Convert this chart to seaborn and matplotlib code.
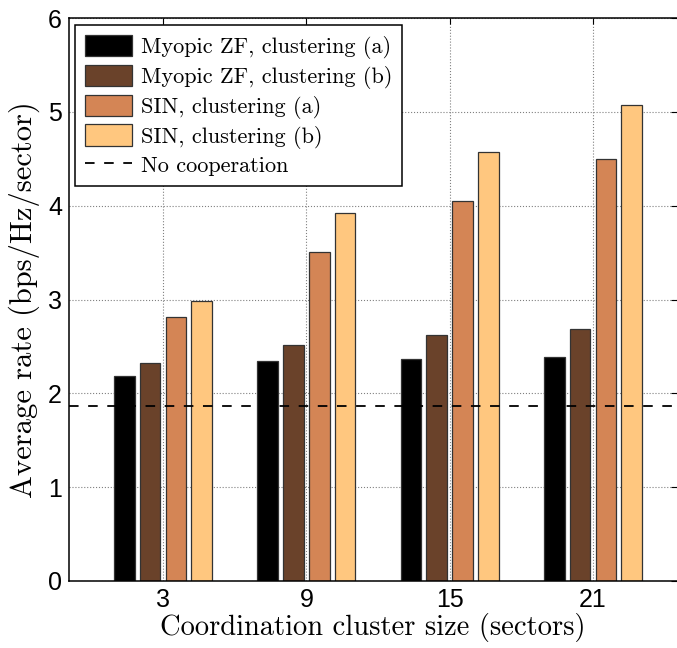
import pandas as pd
import numpy as np
import matplotlib
matplotlib.use("Agg")
import matplotlib.pyplot as plt
import seaborn as sns

# valores
cluster_sizes = ["3", "9", "15", "21"]
series_names = ["Myopic ZF, clustering (a)", "Myopic ZF, clustering (b)",
                "SIN, clustering (a)", "SIN, clustering (b)"]
myopic_a = [2.19, 2.34, 2.37, 2.39]
myopic_b = [2.32, 2.52, 2.62, 2.69]
sin_a = [2.81, 3.51, 4.05, 4.50]
sin_b = [2.99, 3.92, 4.57, 5.07]
no_coop = 1.87

colors = ["#000000", "#6A422A", "#D48555", "#FFC77F"]

rows = []
for name, vals in zip(series_names, [myopic_a, myopic_b, sin_a, sin_b]):
    for c, v in zip(cluster_sizes, vals):
        rows.append({"cluster": c, "serie": name, "rate": v})
df = pd.DataFrame(rows)

sns.set_style("white")
plt.rcParams["text.color"] = "black"
plt.rcParams["axes.labelcolor"] = "black"
plt.rcParams["xtick.color"] = "black"
plt.rcParams["ytick.color"] = "black"
serif = "cmr10"
sans = "Liberation Sans"

fig = plt.figure(figsize=(6.77, 6.48), dpi=100)
ax = fig.add_axes([0.102, 0.1034, 0.898, 0.8686])

sns.barplot(data=df, x="cluster", y="rate", hue="serie", order=cluster_sizes,
            hue_order=series_names, palette=colors, width=0.72, gap=0.2,
            edgecolor="0.2", linewidth=0.9, saturation=1, ax=ax)

ax.axhline(no_coop, color="black", lw=1.3, dashes=(5.3, 5.3), label="No cooperation")

ax.set_xlim(-0.656, 3.586)
ax.set_ylim(0, 6)
ax.set_yticks(range(7))
ax.grid(True, linestyle=":", color="0.5", linewidth=0.8)
ax.set_axisbelow(True)
ax.tick_params(direction="in", length=4, top=True, right=True, labelsize=18, width=0.8, pad=5)
for lab in ax.get_xticklabels() + ax.get_yticklabels():
    lab.set_fontfamily(sans)
for s in ax.spines.values():
    s.set_color("black")
    s.set_linewidth(1.1)
ax.spines["right"].set_visible(False)

ax.set_xlabel("Coordination cluster size (sectors)", fontfamily=serif, fontsize=20.5, labelpad=1)
ax.set_ylabel("Average rate (bps/Hz/sector)", fontfamily=serif, fontsize=22, labelpad=6)

handles, labels = ax.get_legend_handles_labels()
leg = ax.legend(handles, labels, loc="upper left", bbox_to_anchor=(0.0099, 0.9876),
                prop={"family": serif, "size": 16},
                frameon=True, fancybox=False, edgecolor="black", framealpha=1,
                borderaxespad=0, handlelength=2.1, handleheight=1.1,
                labelspacing=0.25, borderpad=0.45, handletextpad=0.4)
leg.get_frame().set_linewidth(1.1)

fig.savefig("out.png", dpi=100)
